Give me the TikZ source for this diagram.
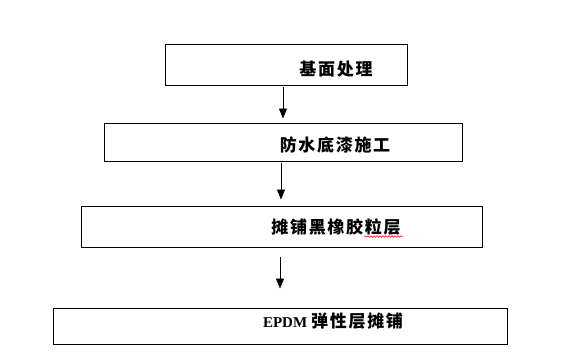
\documentclass[tikz,border=0pt]{standalone}
\usepackage{fontspec}
\usepackage{xcolor}
\newfontfamily\cjk[LetterSpace=10]{Noto Sans CJK SC}
\newfontfamily\latn{Liberation Serif}
\usetikzlibrary{arrows.meta,decorations.pathmorphing}
\tikzset{
  stage/.style={draw, line width=0.9pt, inner sep=0pt},
  label/.style={font=\fontsize{17}{20}\selectfont\bfseries\cjk, inner sep=0pt, anchor=center},
  flow/.style={-{Triangle[width=8pt,length=10pt]}, line width=0.9pt},
  typo/.style={red, line width=0.5pt, decorate, decoration={snake, amplitude=0.8pt, segment length=3pt}}
}
\begin{document}
\begin{tikzpicture}[x=1pt,y=-1pt]
  \useasboundingbox (0,0) rectangle (566,352);

  \node[stage, minimum width=242pt, minimum height=41pt] (base) at (286,64.5) {};
  \node[stage, minimum width=358pt, minimum height=38pt] (primer) at (283,142) {};
  \node[stage, minimum width=401pt, minimum height=41pt] (rubber) at (281.5,226.5) {};
  \node[stage, minimum width=454pt, minimum height=36pt] (epdm) at (280,326) {};

  \node[label] (baseText) at (336,69) {基面处理};
  \node[label] (primerText) at (335,145) {防水底漆施工};
  \node[label] (rubberText) at (336,227) {摊铺黑橡胶粒层};
  \node[label] (epdmText) at (333,321) {{\fontsize{15}{18}\selectfont\latn EPDM}\hspace{4pt}弹性层摊铺};

  % spell-check mark
  \draw[typo] (364,236.5) -- (403,236.5);

  \draw[flow, shorten <=2pt, shorten >=4pt] (base.south -| 283,0) -- (primer.north -| 283,0);
  \draw[flow, shorten <=2pt, shorten >=6pt] (primer.south -| 281,0) -- (rubber.north -| 281,0);
  \draw[flow, shorten <=10pt, shorten >=19pt] (rubber.south -| 280,0) -- (epdm.north -| 280,0);
\end{tikzpicture}
\end{document}
